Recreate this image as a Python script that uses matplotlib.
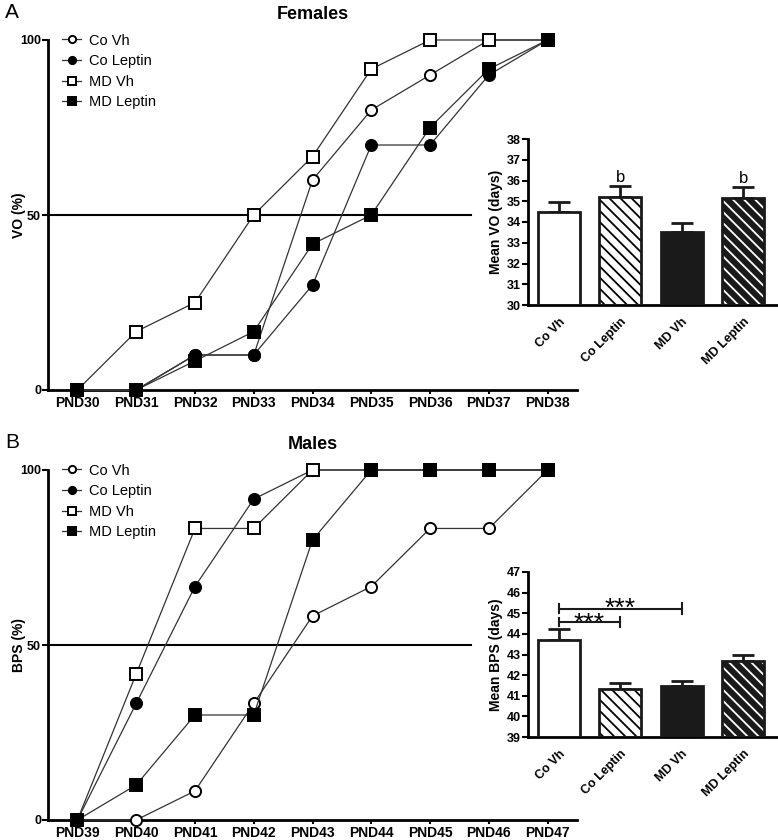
import numpy as np
import matplotlib
matplotlib.use('Agg')
import matplotlib.pyplot as plt

plt.rcParams['font.family'] = ['Liberation Sans', 'DejaVu Sans']
plt.rcParams['hatch.linewidth'] = 1.3

groups = ['Co Vh', 'Co Leptin', 'MD Vh', 'MD Leptin']

# females, vaginal opening (%)
days_f = ['PND30', 'PND31', 'PND32', 'PND33', 'PND34', 'PND35', 'PND36', 'PND37', 'PND38']
co_vh_f = [0, 0, 10, 10, 60, 80, 90, 100, 100]
co_lep_f = [0, 0, 10, 10, 30, 70, 70, 90, 100]
md_vh_f = [0, 16.7, 25, 50, 66.7, 91.7, 100, 100, 100]
md_lep_f = [0, 0, 8.3, 16.7, 41.7, 50, 75, 91.7, 100]
mean_vo = [34.5, 35.2, 33.5, 35.15]
sem_vo = [0.45, 0.55, 0.45, 0.55]

# males, balanopreputial separation (%)
days_m = ['PND39', 'PND40', 'PND41', 'PND42', 'PND43', 'PND44', 'PND45', 'PND46', 'PND47']
co_vh_m = [0, 0, 8.3, 33.3, 58.3, 66.7, 83.3, 83.3, 100]
co_lep_m = [0, 33.3, 66.7, 91.7, 100, 100, 100, 100, 100]
md_vh_m = [0, 41.7, 83.3, 83.3, 100, 100, 100, 100, 100]
md_lep_m = [0, 10, 30, 30, 80, 100, 100, 100, 100]
mean_bps = [43.7, 41.35, 41.45, 42.7]
sem_bps = [0.55, 0.25, 0.25, 0.3]

W, H = 778, 840
fig = plt.figure(figsize=(W / 100, H / 100), dpi=100)


def px_axes(x0, y0, x1, y1):
    # pixel box (left, top, right, bottom) -> figure fraction
    return fig.add_axes([x0 / W, 1 - y1 / H, (x1 - x0) / W, (y1 - y0) / H])


def main_panel(ax, days, series, ylab, title):
    styles = [('o', 'white'), ('o', 'black'), ('s', 'white'), ('s', 'black')]
    x = np.arange(len(days))
    ax.axhline(50, xmin=0, xmax=0.80, color='black', lw=1.5, zorder=1)
    for (mk, fc), vals, name in zip(styles, series, groups):
        ax.plot(x, vals, color='#333333', lw=0.9, marker=mk, markersize=8,
                markerfacecolor=fc, markeredgecolor='black', markeredgewidth=1.4,
                label=name, clip_on=False, zorder=3)
    ax.set_xlim(-0.5, 8.5)
    ax.set_ylim(0, 100)
    ax.set_xticks(x)
    ax.set_xticklabels(days, fontweight='bold', fontsize=10)
    ax.set_yticks([0, 50, 100])
    ax.set_yticklabels(['0', '50', '100'], fontweight='bold', fontsize=9)
    ax.set_ylabel(ylab, fontweight='bold', fontsize=10)
    ax.yaxis.set_label_coords(-0.042, 0.5)
    ax.set_title(title, fontweight='bold', fontsize=13, pad=15)
    for s in ['top', 'right']:
        ax.spines[s].set_visible(False)
    for s in ['left', 'bottom']:
        ax.spines[s].set_linewidth(2)
    ax.tick_params(axis='x', width=1.5, length=3, pad=1)
    ax.tick_params(axis='y', width=1.5, length=4, pad=1)
    ax.legend(loc='upper left', bbox_to_anchor=(0.016, 1.035), frameon=False,
              fontsize=10.5, markerscale=0.65, handlelength=1.3, labelspacing=0.45,
              borderaxespad=0, handletextpad=0.55)


def bar_panel(ax, means, sems, ylo, yhi, ylab):
    x = np.arange(len(groups))
    fills = ['white', 'white', '#1a1a1a', '#1a1a1a']
    hatch_col = [None, 'black', None, 'white']
    heights = [m - ylo for m in means]
    for i in range(len(groups)):
        if hatch_col[i] is not None:
            ax.bar(x[i], heights[i], bottom=ylo, width=0.68, color=fills[i],
                   edgecolor=hatch_col[i], hatch='\\\\\\', lw=0, zorder=2)
        else:
            ax.bar(x[i], heights[i], bottom=ylo, width=0.68, color=fills[i],
                   lw=0, zorder=2)
        ax.bar(x[i], heights[i], bottom=ylo, width=0.68, fill=False,
               edgecolor='#1a1a1a', lw=2, zorder=3)
    ax.errorbar(x, means, yerr=[np.zeros(len(sems)), sems], fmt='none',
                ecolor='#1a1a1a', elinewidth=2, capsize=8, capthick=2, zorder=1)
    ax.set_xlim(-0.5, 3.55)
    ax.set_ylim(ylo, yhi)
    ax.set_yticks(np.arange(ylo, yhi + 1))
    ax.set_yticklabels([str(v) for v in range(ylo, yhi + 1)], fontweight='bold', fontsize=9)
    ax.set_xticks(x)
    ax.set_xticklabels(groups, rotation=45, ha='right', rotation_mode='anchor',
                       fontweight='bold', fontsize=9)
    ax.tick_params(axis='x', length=0, pad=8)
    ax.tick_params(axis='y', length=4, width=1.5, pad=1)
    ax.set_ylabel(ylab, fontweight='bold', fontsize=10, labelpad=3)
    for s in ['top', 'right']:
        ax.spines[s].set_visible(False)
    for s in ['left', 'bottom']:
        ax.spines[s].set_linewidth(2)


# panel A
axA = px_axes(48, 40, 577, 390)
main_panel(axA, days_f, [co_vh_f, co_lep_f, md_vh_f, md_lep_f], 'VO (%)', 'Females')
insA = px_axes(528, 139, 777, 305)
bar_panel(insA, mean_vo, sem_vo, 30, 38, 'Mean VO (days)')
for i in [1, 3]:
    insA.text(i, mean_vo[i] + sem_vo[i] + 0.05, 'b', ha='center', va='bottom', fontsize=12)

# panel B
axB = px_axes(48, 470, 577, 820)
main_panel(axB, days_m, [co_vh_m, co_lep_m, md_vh_m, md_lep_m], 'BPS (%)', 'Males')
insB = px_axes(528, 572, 777, 737)
bar_panel(insB, mean_bps, sem_bps, 39, 47, 'Mean BPS (days)')

# significance brackets (Co Vh vs Co Leptin, Co Vh vs MD Vh)
for x1, yb, ys in [(1, 44.58, 44.15), (2, 45.23, 44.87)]:
    insB.plot([0, x1], [yb, yb], color='#1a1a1a', lw=1.5, zorder=4)
    insB.plot([0, 0], [yb - 0.2, yb + 0.2], color='#1a1a1a', lw=1.5, zorder=4)
    insB.plot([x1, x1], [yb - 0.25, yb + 0.25], color='#1a1a1a', lw=1.5, zorder=4)
    insB.text(x1 / 2, ys, '***', ha='center', va='baseline', fontsize=19)

fig.text(5 / W, 1 - 12 / H, 'A', fontsize=15, va='center', ha='left')
fig.text(5 / W, 1 - 443 / H, 'B', fontsize=15, va='center', ha='left')

fig.savefig('out.png', dpi=100)
